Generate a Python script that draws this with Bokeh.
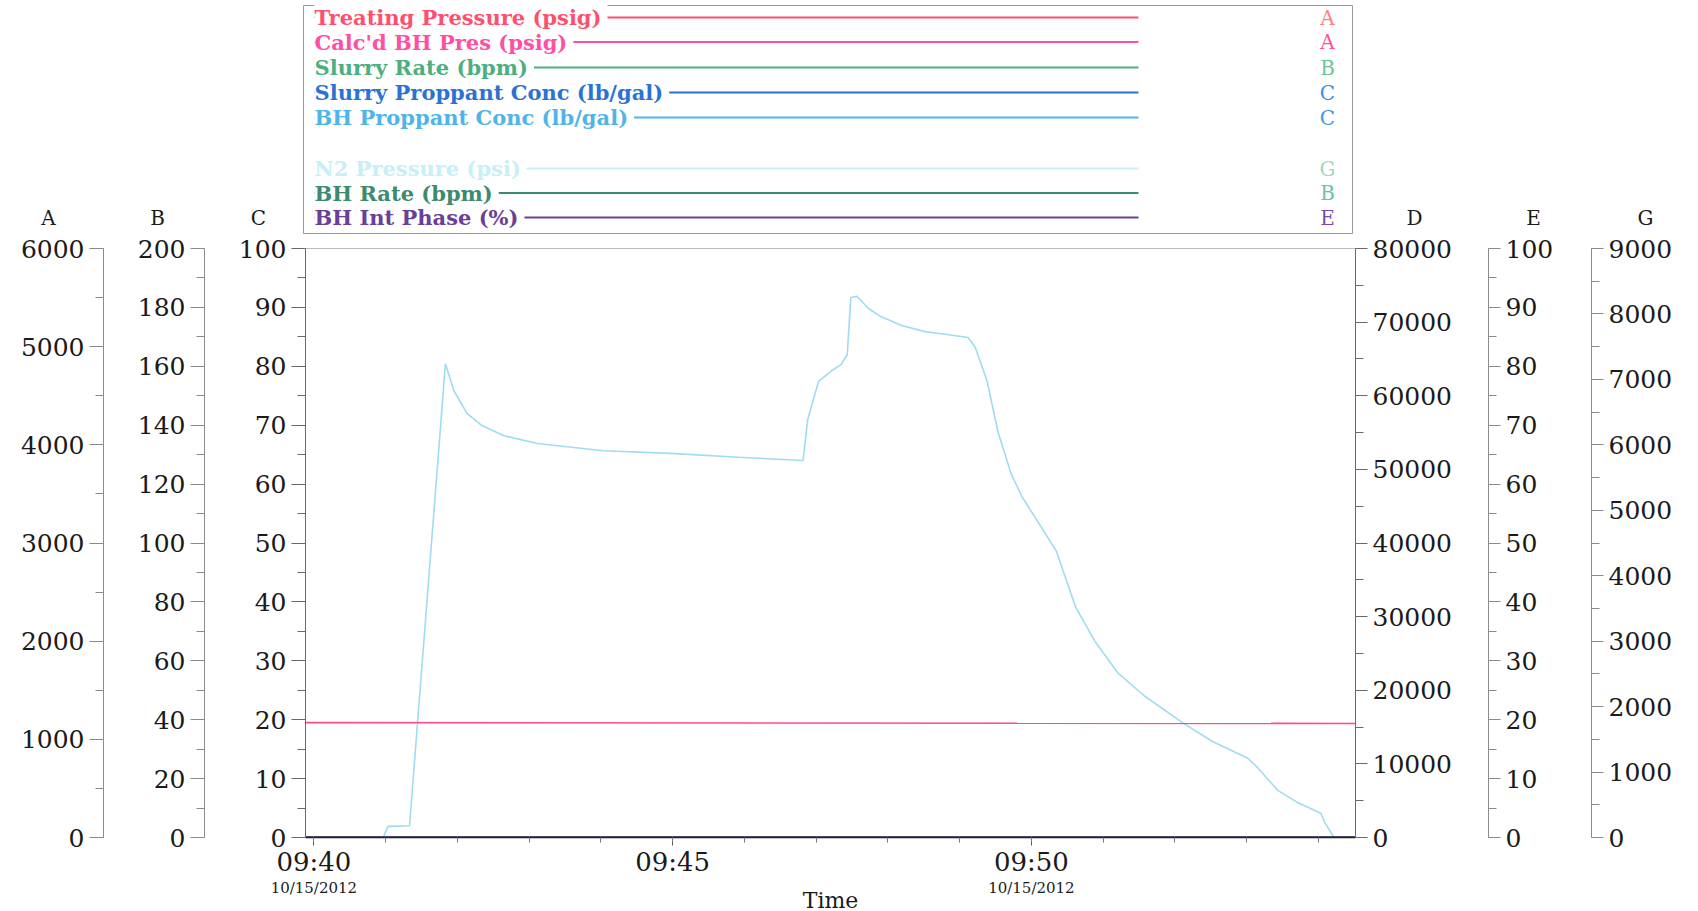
import pandas as pd
from bokeh.plotting import figure
from bokeh.models import (Range1d, LinearAxis, SingleIntervalTicker, FixedTicker,
                          DatetimeTickFormatter)
from bokeh.layouts import column
from bokeh.embed import file_html
from bokeh.resources import INLINE
from bokeh.core.properties import value

# ---------------- data ----------------
DATE = "2012-10-15"
x_start = "09:39:53"
x_end = "09:54:31"

n2_times = ["09:39:53", "09:40:58", "09:41:02", "09:41:20", "09:41:50", "09:41:57",
            "09:42:08", "09:42:20", "09:42:39", "09:43:07", "09:44:02", "09:44:58",
            "09:45:55", "09:46:49", "09:46:53", "09:47:02", "09:47:12", "09:47:21",
            "09:47:26", "09:47:29", "09:47:34", "09:47:44", "09:47:54", "09:48:12",
            "09:48:31", "09:48:48", "09:49:07", "09:49:13", "09:49:23", "09:49:32",
            "09:49:43", "09:49:52", "09:50:08", "09:50:21", "09:50:27", "09:50:37",
            "09:50:53", "09:51:12", "09:51:34", "09:52:06", "09:52:31", "09:53:01",
            "09:53:08", "09:53:26", "09:53:42", "09:54:02", "09:54:05", "09:54:13",
            "09:54:31"]
n2_psi = [0, 0, 170, 180, 7240, 6830,
          6480, 6300, 6140, 6020, 5910, 5870,
          5810, 5760, 6390, 6970, 7120, 7230,
          7380, 8250, 8270, 8080, 7960, 7820,
          7730, 7690, 7640, 7490, 6970, 6200,
          5560, 5210, 4750, 4370, 4050, 3520,
          3000, 2520, 2170, 1760, 1470, 1210,
          1090, 720, 540, 370, 240, 0,
          0]

bh_pres_times = ["09:39:53", "09:54:31"]
bh_pres_psig = [1170, 1162]

zero_times = ["09:39:53", "09:54:31"]
bh_rate_bpm = [0, 0]
bh_int_phase_pct = [0, 0]

legend_names = ["Treating Pressure (psig)", "Calc'd BH Pres (psig)", "Slurry Rate (bpm)",
                "Slurry Proppant Conc (lb/gal)", "BH Proppant Conc (lb/gal)",
                "N2 Pressure (psi)", "BH Rate (bpm)", "BH Int Phase (%)"]
legend_axes = ["A", "A", "B", "C", "C", "G", "B", "E"]
legend_colors = ["#ff4f6f", "#ff4fa3", "#4caf80", "#2b72d4", "#4fb5e6",
                 "#c8eef8", "#3d8a6e", "#6b3f98"]
letter_colors = ["#ff7f7f", "#ff4fa3", "#6cc49c", "#3a8fe0", "#3a9ae6",
                 "#9fd9c0", "#6cc49c", "#7a4aa8"]

axis_names = ["A", "B", "C", "D", "E", "G"]
axis_max = {"A": 6000, "B": 200, "C": 100, "D": 80000, "E": 100, "G": 9000}
axis_step = {"A": 1000, "B": 20, "C": 10, "D": 10000, "E": 10, "G": 1000}

x_tick_times = ["09:40", "09:45", "09:50"]
x_minor_times = ["09:40", "09:41", "09:42", "09:43", "09:44", "09:45", "09:46", "09:47",
                 "09:48", "09:49", "09:50", "09:51", "09:52", "09:53", "09:54"]
date_tick_times = ["09:40", "09:50"]
x_title = "Time"


def ts(t):
    return pd.Timestamp(f"{DATE} {t}")


def ms(t):
    return ts(t).value / 1e6


FONT = "DejaVu Serif"
W = 1698
FRAME_L, FRAME_W, FRAME_R = 305, 1050, 343


def no_frame_align(fig):
    if "frame_align" in fig.properties():
        fig.frame_align = False


# ---------------- legend / header figure ----------------
TOP_H = 234
top = figure(width=W, height=TOP_H, x_range=Range1d(0, W), y_range=Range1d(TOP_H, 0),
             x_axis_type=None, y_axis_type=None, toolbar_location=None,
             output_backend="svg", min_border=0, outline_line_color=None)
top.grid.visible = False
no_frame_align(top)

legend_row_y = [17, 41.5, 67, 92, 117, 168, 192.5, 217]
top.quad(left=[303], right=[1352], top=[5], bottom=[233], fill_color=None,
         line_color="#9a9a9a", line_width=1)
top.segment(x0=[314] * 8, x1=[1138] * 8, y0=legend_row_y, y1=legend_row_y,
            line_color=legend_colors, line_width=1.8)
top.text(x=[314] * 8, y=legend_row_y, text=legend_names, text_color=legend_colors,
         text_font=value(FONT), text_font_size="21px", text_font_style="bold",
         text_baseline="middle", text_align="left",
         background_fill_color="white",
         padding=dict(left=0, right=6, top=0, bottom=0))
top.text(x=[1327] * 8, y=legend_row_y, text=legend_axes, text_color=letter_colors,
         text_font=value(FONT), text_font_size="20px", text_baseline="middle",
         text_align="center")
top.text(x=[48, 157, 258, 1414, 1533, 1645], y=[217] * 6, text=axis_names,
         text_color="#1a1a1a", text_font=value(FONT), text_font_size="20px",
         text_baseline="middle", text_align="center")

# ---------------- main figure ----------------
p = figure(frame_width=FRAME_W, frame_height=589, x_axis_type="datetime",
           x_range=Range1d(ts(x_start), ts(x_end)), y_range=Range1d(0, axis_max["C"]),
           toolbar_location=None, output_backend="svg",
           min_border_left=FRAME_L, min_border_right=FRAME_R, min_border_top=14,
           min_border_bottom=0, outline_line_color="#bdbdbd")
p.grid.visible = False
no_frame_align(p)
p.extra_y_ranges = {k: Range1d(0, axis_max[k]) for k in ["A", "B", "D", "E", "G"]}


def style_axis(ax, name, line_color, pad):
    ax.ticker = SingleIntervalTicker(interval=axis_step[name], num_minor_ticks=2)
    ax.axis_line_color = line_color
    ax.major_tick_line_color = line_color
    ax.minor_tick_line_color = line_color
    ax.major_tick_out = 14
    ax.major_tick_in = 0
    ax.minor_tick_out = 8
    ax.minor_tick_in = 0
    ax.major_label_text_font = FONT
    ax.major_label_text_font_size = "25px"
    ax.major_label_text_color = "#1a1a1a"
    ax.major_label_standoff = 5
    if pad is not None:
        ax.axis_label = " "
        ax.axis_label_text_font_size = "1px"
        ax.axis_label_standoff = pad


style_axis(p.yaxis[0], "C", "#6a6a6a", 27)
axB = LinearAxis(y_range_name="B")
style_axis(axB, "B", "#8a8a8a", 27)
p.add_layout(axB, "left")
axA = LinearAxis(y_range_name="A")
style_axis(axA, "A", "#8a8a8a", None)
p.add_layout(axA, "left")

axD = LinearAxis(y_range_name="D")
style_axis(axD, "D", "#6a6a6a", 29)
axD.major_tick_out = 12
p.add_layout(axD, "right")
axE = LinearAxis(y_range_name="E")
style_axis(axE, "E", "#8a8a8a", 31)
axE.major_tick_out = 12
p.add_layout(axE, "right")
axG = LinearAxis(y_range_name="G")
style_axis(axG, "G", "#8a8a8a", None)
axG.major_tick_out = 12
p.add_layout(axG, "right")

fmt_kw = {k: "%H:%M" for k in ["seconds", "minsec", "minutes", "hourmin", "hours"]}
xa = p.xaxis[0]
xa.ticker = FixedTicker(ticks=[ms(t) for t in x_tick_times],
                        minor_ticks=[ms(t) for t in x_minor_times])
xa.formatter = DatetimeTickFormatter(**fmt_kw)
xa.axis_line_color = "#222222"
xa.axis_line_width = 1.5
xa.major_tick_line_color = "#555555"
xa.minor_tick_line_color = "#777777"
xa.major_tick_out = 8
xa.major_tick_in = 0
xa.minor_tick_out = 5
xa.minor_tick_in = 0
xa.major_label_text_font = FONT
xa.major_label_text_font_size = "26px"
xa.major_label_text_color = "#1a1a1a"
xa.major_label_standoff = 1

# series
p.line([ts(t) for t in n2_times], n2_psi, y_range_name="G",
       line_color="#9fdcf0", line_width=1.6)
p.line([ts(t) for t in bh_pres_times], bh_pres_psig, y_range_name="A",
       line_color="#ff4a8c", line_width=1.6)
p.line([ts(t) for t in zero_times], bh_rate_bpm, y_range_name="B",
       line_color="#3d8a6e", line_width=2)
p.line([ts(t) for t in zero_times], bh_int_phase_pct, y_range_name="E",
       line_color="#4a3470", line_width=2.5)

# ---------------- date line + axis title strip (same time scale) ----------------
BOT_H = 33
px_ms = (ms(x_end) - ms(x_start)) / FRAME_W
bot = figure(width=W, height=BOT_H,
             x_range=Range1d(ms(x_start) - FRAME_L * px_ms, ms(x_end) + FRAME_R * px_ms),
             y_range=Range1d(BOT_H, 0), x_axis_type=None, y_axis_type=None,
             toolbar_location=None, output_backend="svg", min_border=0,
             outline_line_color=None)
bot.grid.visible = False
no_frame_align(bot)
date_label = pd.Timestamp(DATE).strftime("%m/%d/%Y")
bot.text(x=[ms(t) for t in date_tick_times], y=[8] * len(date_tick_times),
         text=[date_label] * len(date_tick_times), text_color="#1a1a1a",
         text_font=value(FONT), text_font_size="15px", text_align="center",
         text_baseline="middle")
bot.text(x=[(ms(x_start) + ms(x_end)) / 2], y=[21], text=[x_title], text_color="#1a1a1a",
         text_font=value(FONT), text_font_size="22px", text_align="center",
         text_baseline="middle")

layout = column(top, p, bot)
open("out.html", "w").write(file_html(layout, INLINE))
